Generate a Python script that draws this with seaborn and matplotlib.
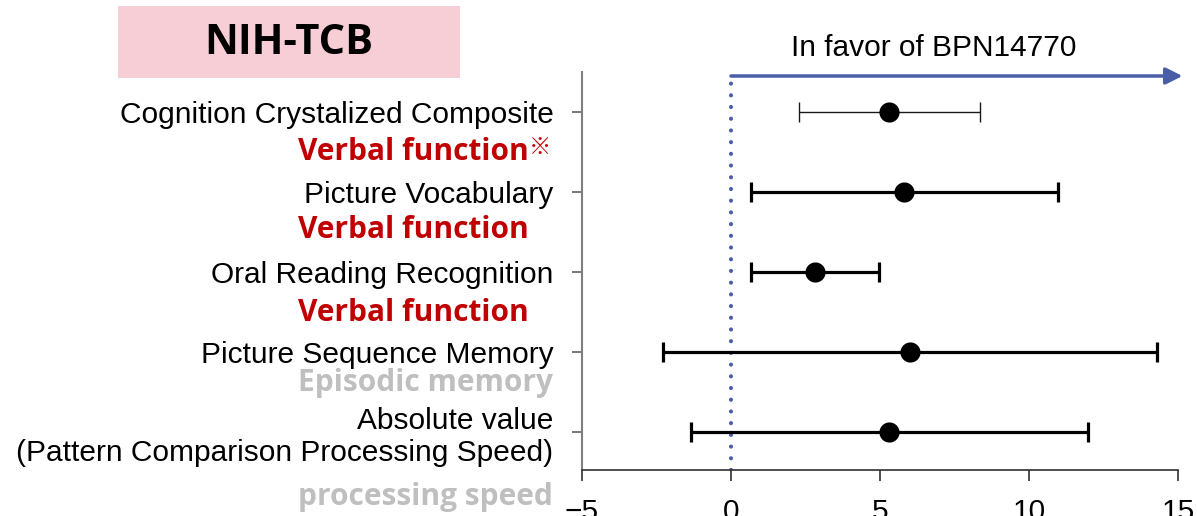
"""NIH-TCB forest plot: effect estimates with confidence intervals."""

import matplotlib.pyplot as plt
import matplotlib.transforms as mtransforms
import numpy as np
import seaborn as sns
from matplotlib.patches import Rectangle

# ---------------------------------------------------------------------------
# Data
# ---------------------------------------------------------------------------
measures = [
    "Cognition Crystalized Composite",
    "Picture Vocabulary",
    "Oral Reading Recognition",
    "Picture Sequence Memory",
    "Absolute value\n(Pattern Comparison Processing Speed)",
]
estimate = [5.30, 5.80, 2.81, 6.00, 5.31]
ci_low = [2.27, 0.66, 0.68, -2.28, -1.34]
ci_high = [8.36, 10.97, 4.97, 14.28, 11.98]

domains = ["Verbal function", "Verbal function", "Verbal function",
           "Episodic memory", "processing speed"]
domain_colors = ["#C00000", "#C00000", "#C00000", "#BFBFBF", "#BFBFBF"]
domain_offsets = [0.50, 1.475, 2.51, 3.39, 4.81]

x_ticks = [-5, 0, 5, 10, 15]

BLUE = "#4A5EA8"

sns.set_style("ticks")
plt.rcParams["font.family"] = ["Liberation Sans", "DejaVu Sans"]
plt.rcParams["text.color"] = "black"
plt.rcParams["xtick.labelcolor"] = "black"
plt.rcParams["ytick.labelcolor"] = "black"
BOLD_FAMILY = ["Open Sans", "Noto Sans CJK JP", "DejaVu Sans"]

fig = plt.figure(figsize=(11.97, 5.16), dpi=100)
ax = fig.add_axes([582 / 1197, 46 / 516, 596 / 1197, 398 / 516])

# error bars (first row drawn thin, the rest thick)
est = np.array(estimate)
lo = np.array(ci_low)
hi = np.array(ci_high)
for i, m in enumerate(measures):
    thin = i == 0
    _, caps, bars = ax.errorbar(
        est[i], m, xerr=[[est[i] - lo[i]], [hi[i] - est[i]]],
        fmt="none", ecolor="#1A1A1A" if thin else "black",
        elinewidth=1.0 if thin else 2.3, capsize=7,
        capthick=1.0 if thin else 2.3, zorder=2,
    )
    if thin:
        for c in caps:
            c.set_color("#7F7F7F")

sns.scatterplot(x=estimate, y=measures, color="black", s=210,
                edgecolor="black", linewidth=0, zorder=3, ax=ax,
                legend=False)

ax.set_xlim(-5, 15)
ax.set_ylim(4.475, -0.5)
ax.set_xticks(x_ticks)
ax.set_xticklabels([str(t).replace("-", "\u2212") for t in x_ticks])
ax.set_xlabel("")
ax.set_ylabel("")

# null line and direction arrow
ax.axvline(0, ymin=0.0, ymax=0.985, color=BLUE, lw=3,
           ls=(0, (0.01, 2.8)), dash_capstyle="round", zorder=1)
ax.annotate("", xy=(15.15, -0.45), xytext=(0, -0.45),
            arrowprops=dict(arrowstyle="-|>", color=BLUE, lw=2.5,
                            mutation_scale=25, shrinkA=0, shrinkB=0),
            annotation_clip=False)
ax.text(6.8, -0.8, "In favor of BPN14770", ha="center", va="center",
        fontsize=21.5, color="black", clip_on=False)

# spines and ticks
sns.despine(ax=ax)
ax.spines["left"].set_color("#808080")
ax.spines["left"].set_linewidth(1.5)
ax.spines["bottom"].set_color("#303030")
ax.spines["bottom"].set_linewidth(1.2)
ax.tick_params(axis="y", length=7, width=1.2, color="#606060",
               labelsize=21.5, pad=13.5, labelcolor="black")
ax.tick_params(axis="x", length=8, width=1.2, color="#303030",
               labelsize=21.5, pad=12.5, labelcolor="black")

# domain annotations under each measure
trans = mtransforms.blended_transform_factory(fig.transFigure, ax.transData)
for i, (d, c, y) in enumerate(zip(domains, domain_colors, domain_offsets)):
    t = ax.text(298 / 1197, y, d, transform=trans, ha="left", va="center",
                fontsize=21.5, fontweight="bold", color=c,
                family=BOLD_FAMILY, clip_on=False)
    if i == 0:
        # superscript reference mark
        ax.annotate("\u203B", xy=(1, 1), xycoords=t, xytext=(0, 1),
                    textcoords="offset points", ha="left", va="top",
                    fontsize=16, fontweight="bold", color=c,
                    family=["Noto Sans CJK JP", "DejaVu Sans"])

# title box
fig.patches.append(Rectangle((118 / 1197, 438 / 516), 342 / 1197, 72 / 516,
                             transform=fig.transFigure, facecolor="#F7CDD6",
                             edgecolor="none", zorder=0))
fig.text(289 / 1197, 1 - 43 / 516, "NIH-TCB", ha="center", va="center",
         fontsize=30, fontweight="bold", color="black", family=BOLD_FAMILY)

fig.savefig("out.png", dpi=100)
